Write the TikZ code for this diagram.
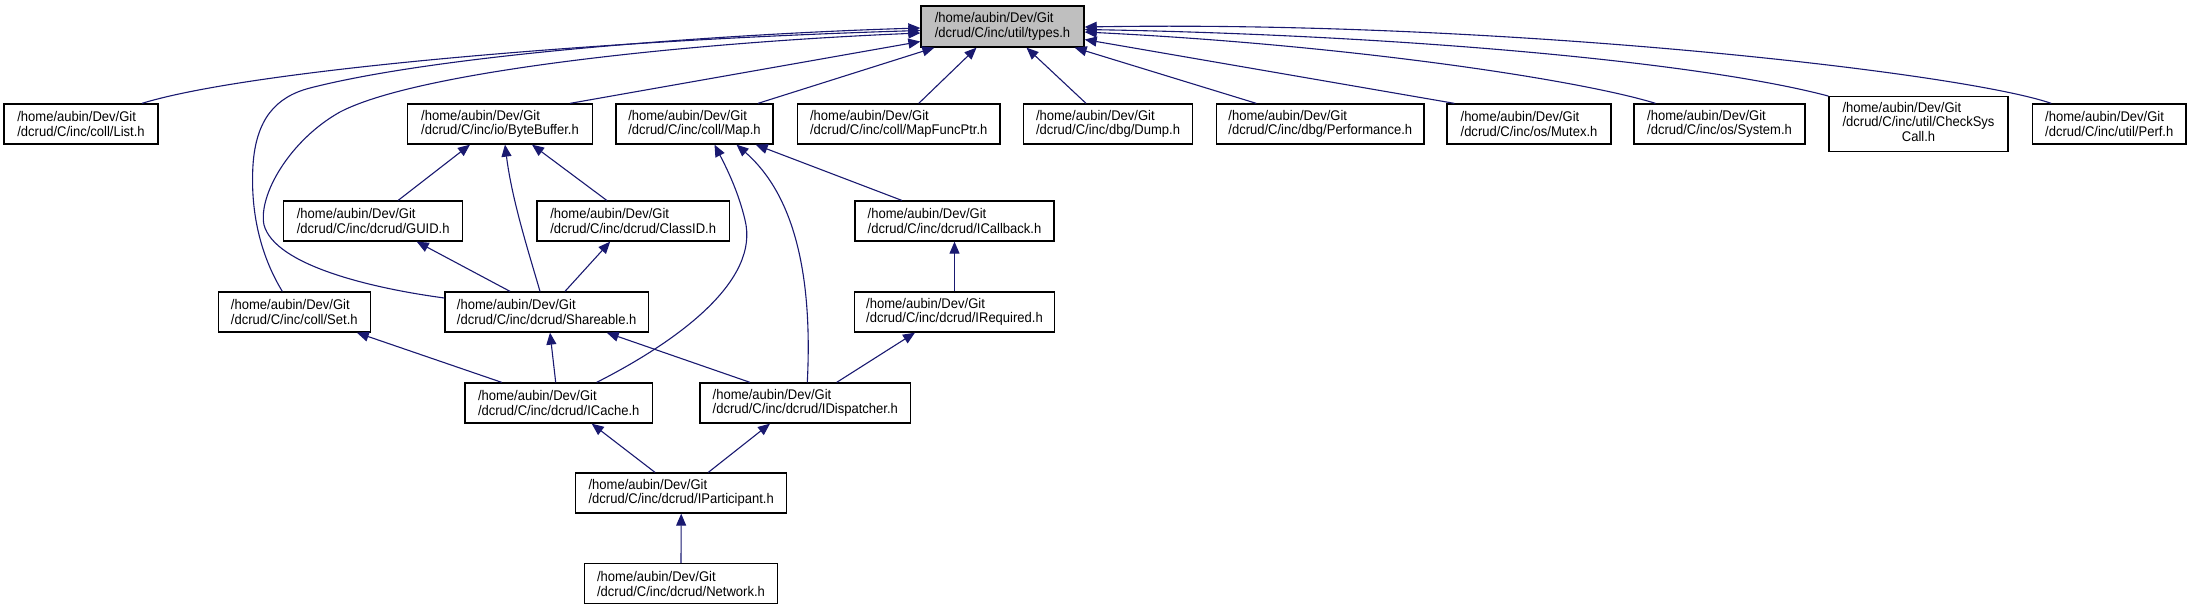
\documentclass[tikz,border=0pt]{standalone}
\usepackage{fontspec}
\setmainfont[FakeStretch=0.93]{Liberation Sans}
\usepackage{tikz}
\usetikzlibrary{arrows.meta,positioning,calc}
\definecolor{EdgeNavy}{HTML}{191970}
\definecolor{RootGray}{HTML}{BFBFBF}

\begin{document}
\begin{tikzpicture}[x=1pt,y=-1pt,
  hdr/.style={draw=black,line width=1.3pt,fill=white,minimum height=40pt,
    inner sep=0pt,align=left,font=\fontsize{14}{14.7}\selectfont},
  dep/.style={EdgeNavy,line width=1.1pt,-{Triangle[length=12pt,width=10pt]}}]
  \useasboundingbox (0,0) rectangle (2191,611);
  % root header
  \node[hdr,fill=RootGray,minimum width=163pt,minimum height=41pt] (types) at (1002.5,26.5)
    {/home/aubin/Dev/Git\\/dcrud/C/inc/util/types.h};
  % first row
  \node[hdr,minimum width=154pt] (list) at (81,124) {/home/aubin/Dev/Git\\/dcrud/C/inc/coll/List.h};
  \node[hdr,minimum width=185pt] (bytebuf) at (500,124) {/home/aubin/Dev/Git\\/dcrud/C/inc/io/ByteBuffer.h};
  \node[hdr,minimum width=157pt] (map) at (694.5,124) {/home/aubin/Dev/Git\\/dcrud/C/inc/coll/Map.h};
  \node[hdr,minimum width=202.5pt] (mapfunc) at (898.75,124) {/home/aubin/Dev/Git\\/dcrud/C/inc/coll/MapFuncPtr.h};
  \node[hdr,minimum width=168.6pt] (dump) at (1108,124) {/home/aubin/Dev/Git\\/dcrud/C/inc/dbg/Dump.h};
  \node[hdr,minimum width=207.3pt] (perfmc) at (1320.3,124) {/home/aubin/Dev/Git\\/dcrud/C/inc/dbg/Performance.h};
  \node[hdr,minimum width=164pt] (mutex) at (1529,124) {/home/aubin/Dev/Git\\/dcrud/C/inc/os/Mutex.h};
  \node[hdr,minimum width=171pt] (system) at (1719.5,124) {/home/aubin/Dev/Git\\/dcrud/C/inc/os/System.h};
  \node[hdr,minimum width=179pt,minimum height=54.6pt] (checksys) at (1918.5,124)
    {\begin{tabular}{@{}l@{}}/home/aubin/Dev/Git\\/dcrud/C/inc/util/CheckSys\\\multicolumn{1}{@{}c@{}}{Call.h}\end{tabular}};
  \node[hdr,minimum width=153.5pt] (perf) at (2109.25,124) {/home/aubin/Dev/Git\\/dcrud/C/inc/util/Perf.h};
  % second row
  \node[hdr,minimum width=179pt] (guid) at (373.2,221) {/home/aubin/Dev/Git\\/dcrud/C/inc/dcrud/GUID.h};
  \node[hdr,minimum width=192.3pt] (classid) at (633.2,221) {/home/aubin/Dev/Git\\/dcrud/C/inc/dcrud/ClassID.h};
  \node[hdr,minimum width=199pt] (icallback) at (954.5,221) {/home/aubin/Dev/Git\\/dcrud/C/inc/dcrud/ICallback.h};
  % third row
  \node[hdr,minimum width=152pt] (set) at (294.3,312) {/home/aubin/Dev/Git\\/dcrud/C/inc/coll/Set.h};
  \node[hdr,minimum width=203.3pt] (shareable) at (546.7,312) {/home/aubin/Dev/Git\\/dcrud/C/inc/dcrud/Shareable.h};
  \node[hdr,minimum width=200.4pt] (irequired) at (954.5,312) {/home/aubin/Dev/Git\\/dcrud/C/inc/dcrud/IRequired.h};
  % lower rows
  \node[hdr,minimum width=187.3pt] (icache) at (558.7,403) {/home/aubin/Dev/Git\\/dcrud/C/inc/dcrud/ICache.h};
  \node[hdr,minimum width=210.7pt] (idispatch) at (805.3,403) {/home/aubin/Dev/Git\\/dcrud/C/inc/dcrud/IDispatcher.h};
  \node[hdr,minimum width=211pt] (ipart) at (681.2,493) {/home/aubin/Dev/Git\\/dcrud/C/inc/dcrud/IParticipant.h};
  \node[hdr,minimum width=193.4pt] (network) at (681,583.7) {/home/aubin/Dev/Git\\/dcrud/C/inc/dcrud/Network.h};

  % includes of types.h
  \draw[dep] ($(list.north)+(61,0)$) .. controls (250,70) and (600,40) .. ($(types.west)+(0,4)$);
  \draw[dep] ($(set.north)+(-12,0)$) .. controls (262,258) and (250,215) .. (253,165)
    .. controls (256,120) and (275,97) .. (310,88)
    .. controls (450,52) and (750,33) .. ($(types.west)+(0,1.5)$);
  \draw[dep] ($(shareable.west)+(0,-14)$) .. controls (370,288) and (275,265) .. (264,225)
    .. controls (258,195) and (290,140) .. (340,112)
    .. controls (420,70) and (700,42) .. ($(types.west)+(0,6.5)$);
  \draw[dep] ($(bytebuf.north)+(70,0)$) -- ($(types.west)+(0,15)$);
  \draw[dep] ($(map.north)+(63.5,0)$) -- ($(types.south west)+(14,0)$);
  \draw[dep] ($(mapfunc.north)+(20,0)$) -- ($(types.south)+(-26,0)$);
  \draw[dep] ($(dump.north)+(-22,0)$) -- ($(types.south)+(24,0)$);
  \draw[dep] ($(perfmc.north)+(-64,0)$) -- ($(types.south east)+(-10,0)$);
  \draw[dep] ($(mutex.north west)+(8,0)$) -- ($(types.east)+(0,13)$);
  \draw[dep] ($(system.north)+(-64,0)$) .. controls (1580,80) and (1350,45) .. ($(types.east)+(0,5.5)$);
  \draw[dep] (checksys.north west) .. controls (1700,62) and (1400,35) .. ($(types.east)+(0,3)$);
  \draw[dep] ($(perf.north)+(-58,0)$) .. controls (1960,72) and (1500,20) .. ($(types.east)+(0,0.5)$);

  % middle layers
  \draw[dep] ($(guid.north)+(25,0)$) -- ($(bytebuf.south)+(-30,0)$);
  \draw[dep] ($(shareable.north)+(-6.7,0)$) .. controls (528,250) and (512,200) .. ($(bytebuf.south)+(5,0)$);
  \draw[dep] ($(classid.north)+(-26.5,0)$) -- ($(bytebuf.south)+(32,0)$);
  \draw[dep] ($(icache.north)+(38,0)$) .. controls (680,340) and (760,280) .. (745,220)
    .. controls (738,190) and (725,165) .. ($(map.south)+(20,0)$);
  \draw[dep] ($(idispatch.north)+(2,0)$) .. controls (812,290) and (800,200) .. ($(map.south)+(42,0)$);
  \draw[dep] ($(icallback.north)+(-52.8,0)$) -- ($(map.south east)+(-18,0)$);
  \draw[dep] ($(shareable.north)+(-36.7,0)$) -- ($(guid.south)+(43.5,0)$);
  \draw[dep] ($(shareable.north)+(18.3,0)$) -- ($(classid.south)+(-23,0)$);
  \draw[dep] (irequired) -- (icallback);
  \draw[dep] ($(icache.north)+(-57,0)$) -- ($(set.south)+(62.5,0)$);
  \draw[dep] ($(icache.north)+(-3,0)$) -- ($(shareable.south)+(3.3,0)$);
  \draw[dep] ($(idispatch.north)+(-55.3,0)$) -- ($(shareable.south)+(60,0)$);
  \draw[dep] ($(idispatch.north)+(31.4,0)$) -- ($(irequired.south)+(-39.5,0)$);
  \draw[dep] ($(ipart.north)+(-26.2,0)$) -- ($(icache.south)+(33,0)$);
  \draw[dep] ($(ipart.north)+(27.1,0)$) -- ($(idispatch.south)+(-35.3,0)$);
  \draw[dep] (network.north) -- (ipart.south);
\end{tikzpicture}
\end{document}
